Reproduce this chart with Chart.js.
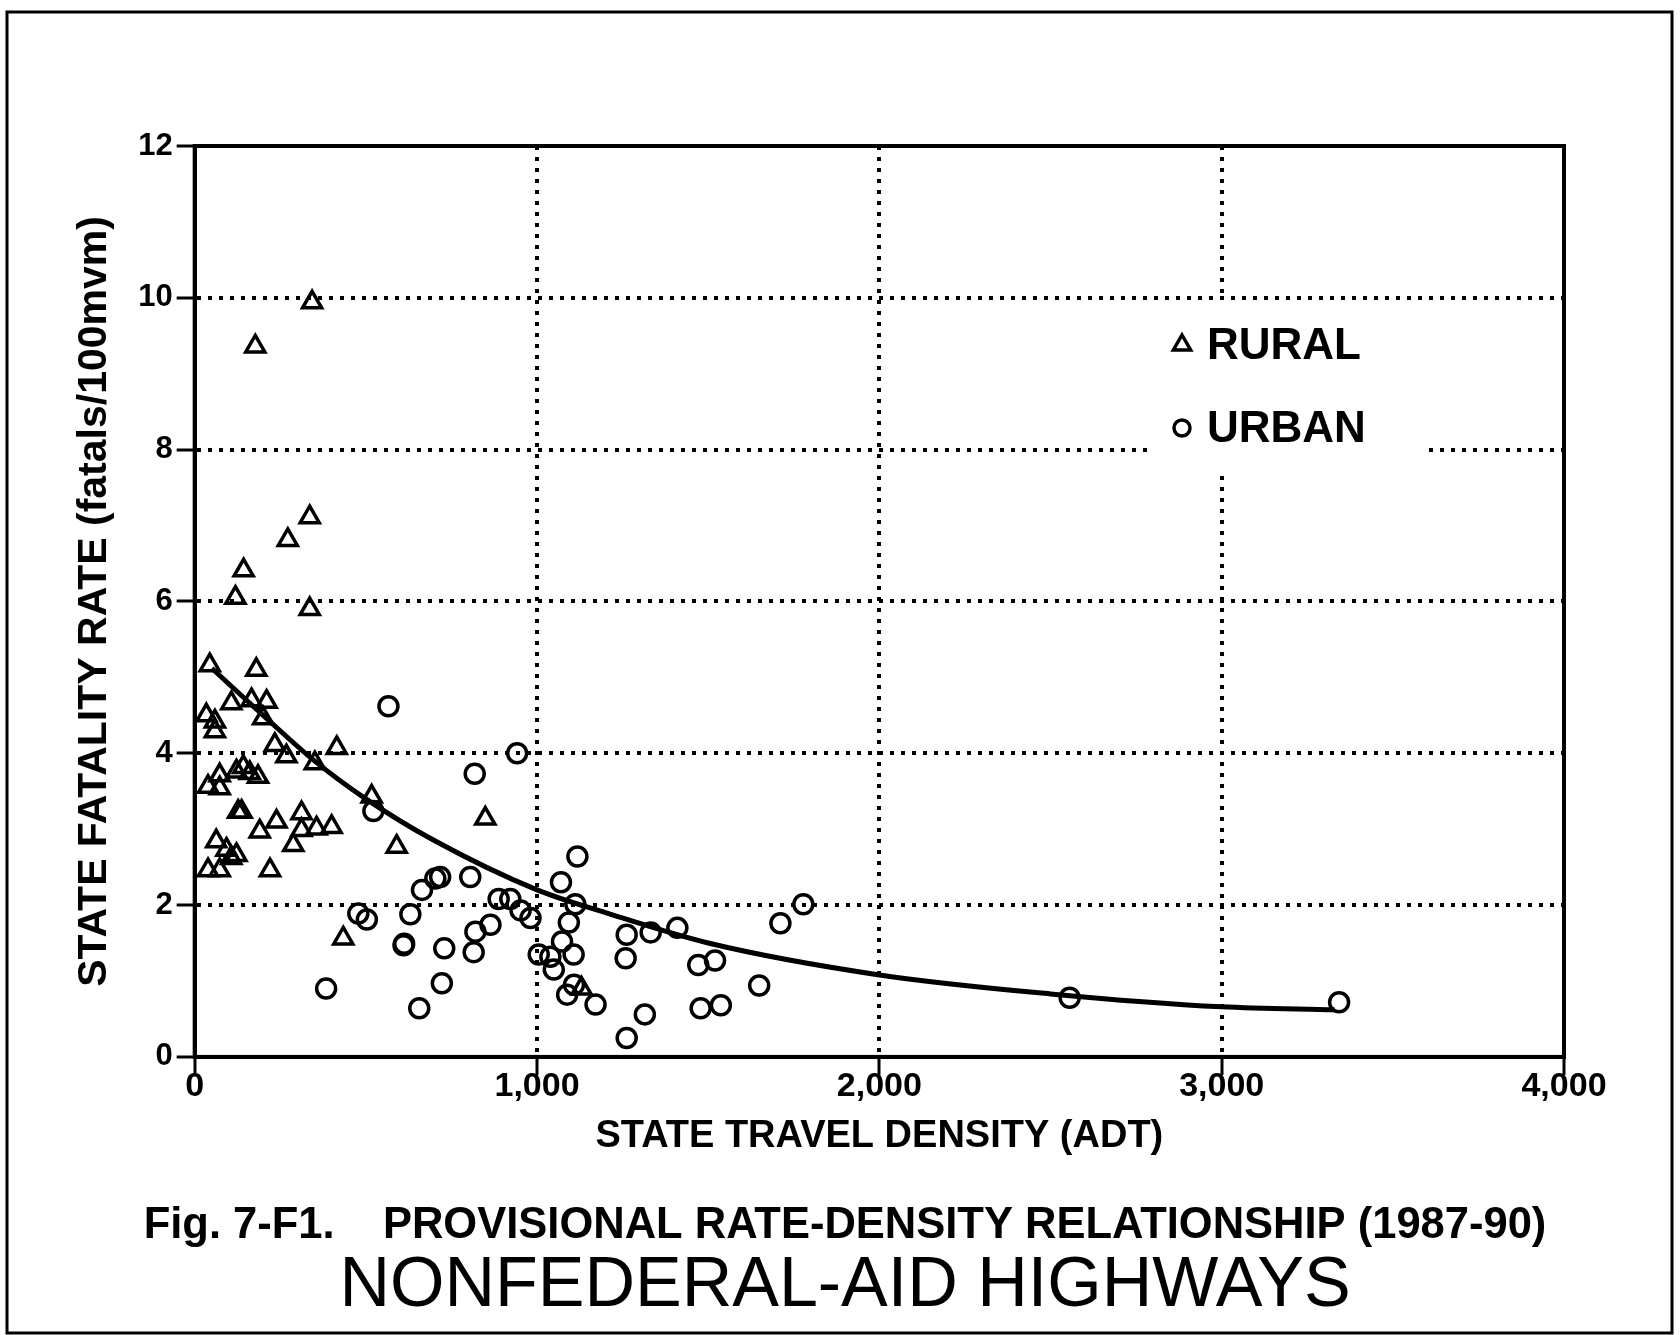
<!DOCTYPE html>
<html lang="en">
<head>
<meta charset="UTF-8">
<title>Provisional Rate-Density Relationship (1987-90)</title>
<script src="https://cdn.jsdelivr.net/npm/chart.js"></script>
<style>
  body { margin: 0; background: #fff; }
  canvas { display: block; }
</style>
</head>
<body>
<canvas id="rateChart" width="1680" height="1335"></canvas>
<script>
  // state travel density (ADT) vs state fatality rate (fatals/100mvm)
  const ruralDensity = [343, 177, 336, 272, 143, 119, 336, 44, 180, 34, 59, 59, 107, 166, 210, 200,
    234, 268, 351, 415, 142, 122, 161, 185, 73, 39, 73, 127, 137, 239, 190, 312, 312, 356, 400, 288,
    63, 93, 122, 107, 39, 73, 220, 517, 590, 849, 434, 1130];
  const ruralRate = [9.94, 9.36, 7.11, 6.81, 6.41, 6.05, 5.90, 5.16, 5.10, 4.50, 4.42, 4.29, 4.66, 4.70, 4.68, 4.46,
    4.11, 3.96, 3.87, 4.07, 3.82, 3.76, 3.74, 3.69, 3.71, 3.56, 3.54, 3.23, 3.23, 3.10, 2.97, 3.21, 2.99, 3.01, 3.03, 2.79,
    2.84, 2.73, 2.66, 2.62, 2.46, 2.46, 2.46, 3.43, 2.77, 3.14, 1.56, 0.90];

  const urbanDensity = [566, 942, 818, 522, 1118, 1070, 805, 717, 703, 664, 888, 922, 1112, 478, 503, 630,
    952, 981, 1093, 864, 820, 610, 612, 729, 815, 1073, 1005, 1039, 1107, 1049, 1262, 1332, 1410, 1259,
    1471, 1520, 1649, 384, 722, 656, 1108, 1088, 1171, 1262, 1315, 1478, 1537, 1711, 1778, 2556, 3343];
  const urbanRate = [4.62, 4.00, 3.73, 3.24, 2.64, 2.30, 2.37, 2.37, 2.35, 2.20, 2.08, 2.08, 2.01, 1.89, 1.81, 1.88,
    1.93, 1.83, 1.77, 1.74, 1.65, 1.47, 1.49, 1.43, 1.38, 1.52, 1.35, 1.32, 1.35, 1.15, 1.61, 1.64, 1.70, 1.30,
    1.21, 1.27, 0.94, 0.90, 0.97, 0.64, 0.95, 0.82, 0.69, 0.25, 0.56, 0.64, 0.68, 1.76, 2.01, 0.78, 0.72];

  // fitted curve
  const fitDensity = [50, 200, 350, 500, 700, 1000, 1200, 1500, 2000, 2500, 3000, 3330];
  const fitRate = [5.12, 4.50, 3.90, 3.40, 2.85, 2.20, 1.90, 1.50, 1.08, 0.83, 0.66, 0.62];

  const xTicks = [0, 1000, 2000, 3000, 4000];
  const yTicks = [0, 2, 4, 6, 8, 10, 12];

  const FONT = "'Liberation Sans', Arial, sans-serif";
  Chart.defaults.color = '#000';
  Chart.defaults.font.family = FONT;

  const toPoints = (xs, ys) => xs.map((x, i) => ({ x: x, y: ys[i] }));

  // white page with the thin outer frame, and the solid box round the plot
  const framePlugin = {
    id: 'frame',
    beforeDraw(chart) {
      const { ctx, width, height } = chart;
      ctx.save();
      ctx.fillStyle = '#fff';
      ctx.fillRect(0, 0, width, height);
      ctx.strokeStyle = '#000';
      ctx.lineWidth = 3;
      ctx.strokeRect(7, 12, width - 15, height - 14);
      ctx.restore();
    },
    afterDraw(chart) {
      const { ctx, chartArea: a } = chart;
      ctx.save();
      ctx.strokeStyle = '#000';
      ctx.lineWidth = 4;
      ctx.strokeRect(a.left, a.top, a.right - a.left, a.bottom - a.top);
      ctx.restore();
    }
  };

  // legend sits inside the plot on a white patch that cuts the grid
  const legendPlugin = {
    id: 'insideLegend',
    afterDraw(chart) {
      const { ctx, chartArea: a } = chart;
      const bx = a.right - 417, by = a.top + 154;
      ctx.save();
      ctx.fillStyle = '#fff';
      ctx.fillRect(bx, by, 278, 173);
      ctx.strokeStyle = '#000';
      ctx.fillStyle = '#000';
      ctx.lineWidth = 3.5;
      const rows = [
        { ds: chart.data.datasets[1], y: by + 45 },
        { ds: chart.data.datasets[2], y: by + 128 }
      ];
      rows.forEach(row => {
        const cx = bx + 35;
        ctx.beginPath();
        if (row.ds.pointStyle === 'triangle') {
          const r = 10;
          ctx.moveTo(cx, row.y - r);
          ctx.lineTo(cx + r * 0.866, row.y + r / 2);
          ctx.lineTo(cx - r * 0.866, row.y + r / 2);
          ctx.closePath();
        } else {
          ctx.arc(cx, row.y, 8, 0, Math.PI * 2);
        }
        ctx.stroke();
        ctx.font = 'bold 44px ' + FONT;
        ctx.textBaseline = 'middle';
        ctx.fillText(row.ds.label, bx + 60, row.y + 2);
      });
      ctx.restore();
    }
  };

  const gridStyle = { color: '#000', lineWidth: 4, tickLength: 18, tickWidth: 3, tickColor: '#000' };
  const borderStyle = { display: true, color: '#000', width: 4, dash: [4, 7] };

  new Chart(document.getElementById('rateChart').getContext('2d'), {
    type: 'scatter',
    data: {
      datasets: [
        {
          type: 'line',
          label: 'fit',
          data: toPoints(fitDensity, fitRate),
          borderColor: '#000',
          borderWidth: 5,
          pointRadius: 0,
          fill: false,
          cubicInterpolationMode: 'monotone',
          order: 0
        },
        {
          label: 'RURAL',
          data: toPoints(ruralDensity, ruralRate),
          pointStyle: 'triangle',
          pointRadius: 11,
          borderWidth: 3.5,
          borderColor: '#000',
          backgroundColor: 'rgba(0,0,0,0)',
          order: 1
        },
        {
          label: 'URBAN',
          data: toPoints(urbanDensity, urbanRate),
          pointStyle: 'circle',
          pointRadius: 9.5,
          borderWidth: 3.5,
          borderColor: '#000',
          backgroundColor: 'rgba(0,0,0,0)',
          order: 1
        }
      ]
    },
    options: {
      responsive: false,
      animation: false,
      layout: { padding: { left: 60, top: 146, right: 50, bottom: 13 } },
      plugins: {
        legend: { display: false },
        tooltip: { enabled: false },
        subtitle: {
          display: true,
          position: 'bottom',
          text: 'Fig. 7-F1.    PROVISIONAL RATE-DENSITY RELATIONSHIP (1987-90)',
          font: { size: 43.5, weight: 'bold', family: FONT },
          color: '#000',
          padding: { top: 40, bottom: 0 }
        },
        title: {
          display: true,
          position: 'bottom',
          text: 'NONFEDERAL-AID HIGHWAYS',
          font: { size: 70, weight: 'normal', family: FONT, lineHeight: 1 },
          color: '#000',
          padding: { top: 0, bottom: 0 }
        }
      },
      scales: {
        x: {
          type: 'linear',
          min: 0,
          max: 4000,
          afterBuildTicks: axis => { axis.ticks = xTicks.map(v => ({ value: v })); },
          ticks: {
            padding: -9,
            font: { size: 34, weight: 'bold' },
            callback: v => v.toLocaleString('en-US')
          },
          grid: gridStyle,
          border: borderStyle,
          title: {
            display: true,
            text: 'STATE TRAVEL DENSITY (ADT)',
            font: { size: 38, weight: 'bold' },
            padding: { top: 16.5, bottom: 0 }
          }
        },
        y: {
          min: 0,
          max: 12,
          afterBuildTicks: axis => { axis.ticks = yTicks.map(v => ({ value: v })); },
          ticks: { padding: 4, font: { size: 31, weight: 'bold' } },
          grid: gridStyle,
          border: borderStyle,
          title: {
            display: true,
            text: 'STATE FATALITY RATE (fatals/100mvm)',
            font: { size: 41, weight: 'bold' },
            padding: { top: 10, bottom: 15 }
          }
        },
        // empty right-hand axis only keeps the plot's right edge where the figure has it
        yRight: {
          position: 'right',
          min: 0,
          max: 12,
          ticks: { display: false },
          grid: { display: false },
          border: { display: false },
          afterFit: axis => { axis.width = 66; }
        }
      }
    },
    plugins: [framePlugin, legendPlugin]
  });
</script>
</body>
</html>
